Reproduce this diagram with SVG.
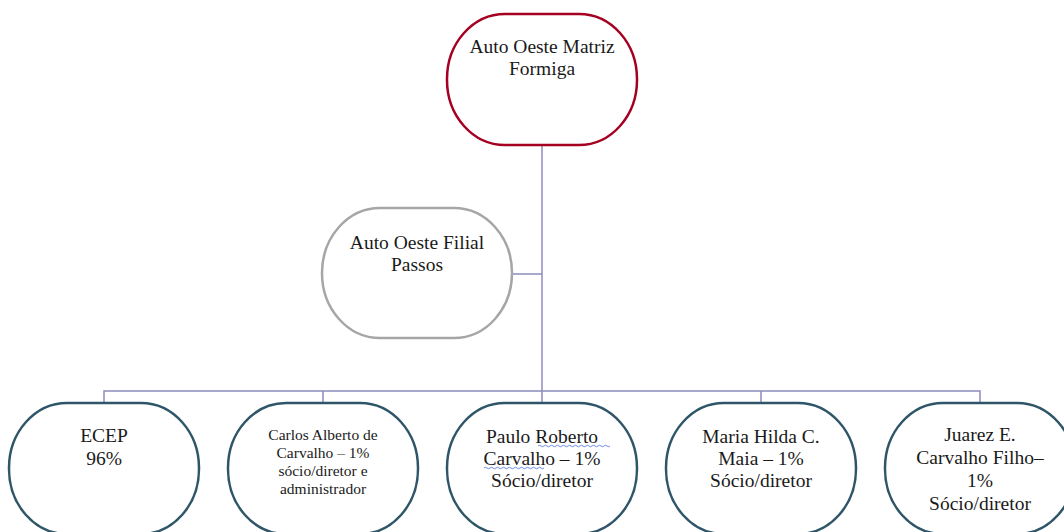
<svg xmlns="http://www.w3.org/2000/svg" width="1064" height="532" viewBox="0 0 1064 532">
<style>
.t{font-family:"Liberation Serif","Times New Roman",serif;font-size:19.5px;fill:#1a1a1a;text-anchor:middle}
.s{font-size:15.5px}
.n{fill:#fff;stroke-width:2.5}
.red{stroke:#A50021}
.gray{stroke:#A6A6A6}
.blue{stroke:#2F5668}
.c{fill:none;stroke:#8C8CBC;stroke-width:1.5}
.sq{fill:none;stroke:#5B7FE0;stroke-width:0.9}
</style>
<rect width="1064" height="532" fill="#fff"/>
<g id="connectors">
<path class="c" d="M542 145V391"/>
<path class="c" d="M512 274H542"/>
<path class="c" d="M104 403V391H980V403"/>
<path class="c" d="M323 391V403M542 391V403M761 391V403"/>
</g>
<g id="matriz">
<rect class="n red" x="447" y="14" width="190" height="131" rx="58" ry="65"/>
<text class="t" x="542" y="53">Auto Oeste Matriz</text>
<text class="t" x="542" y="75">Formiga</text>
</g>
<g id="filial">
<rect class="n gray" x="322" y="208" width="190" height="130" rx="58" ry="65"/>
<text class="t" x="417" y="249">Auto Oeste Filial</text>
<text class="t" x="417" y="271">Passos</text>
</g>
<g id="ecep">
<rect class="n blue" x="9" y="403" width="190" height="131" rx="58" ry="65"/>
<text class="t" x="104" y="442">ECEP</text>
<text class="t" x="104" y="465">96%</text>
</g>
<g id="carlos">
<rect class="n blue" x="228" y="403" width="190" height="131" rx="58" ry="65"/>
<text class="t s" x="323" y="440">Carlos Alberto de</text>
<text class="t s" x="323" y="458">Carvalho – 1%</text>
<text class="t s" x="323" y="476">sócio/diretor e</text>
<text class="t s" x="323" y="494">administrador</text>
</g>
<g id="paulo">
<rect class="n blue" x="447" y="403" width="190" height="131" rx="58" ry="65"/>
<text class="t" x="542" y="443">Paulo Roberto</text>
<text class="t" x="542" y="465">Carvalho – 1%</text>
<text class="t" x="542" y="487">Sócio/diretor</text>
<path class="sq" d="M538 446q1.5-1.5 3 0t3 0 3 0 3 0 3 0 3 0 3 0 3 0 3 0 3 0 3 0 3 0 3 0 3 0 3 0 3 0 3 0 3 0 3 0 3 0 3 0 3 0 3 0 3 0"/>
<path class="sq" d="M484 468q1.5-1.5 3 0t3 0 3 0 3 0 3 0 3 0 3 0 3 0 3 0 3 0 3 0 3 0 3 0 3 0 3 0 3 0 3 0 3 0 3 0 3 0"/>
</g>
<g id="maria">
<rect class="n blue" x="666" y="403" width="190" height="131" rx="58" ry="65"/>
<text class="t" x="761" y="443">Maria Hilda C.</text>
<text class="t" x="761" y="465">Maia – 1%</text>
<text class="t" x="761" y="487">Sócio/diretor</text>
</g>
<g id="juarez">
<rect class="n blue" x="885" y="403" width="190" height="131" rx="58" ry="65"/>
<text class="t" x="980" y="441">Juarez E.</text>
<text class="t" x="980" y="464">Carvalho Filho–</text>
<text class="t" x="980" y="487">1%</text>
<text class="t" x="980" y="510">Sócio/diretor</text>
</g>
</svg>
